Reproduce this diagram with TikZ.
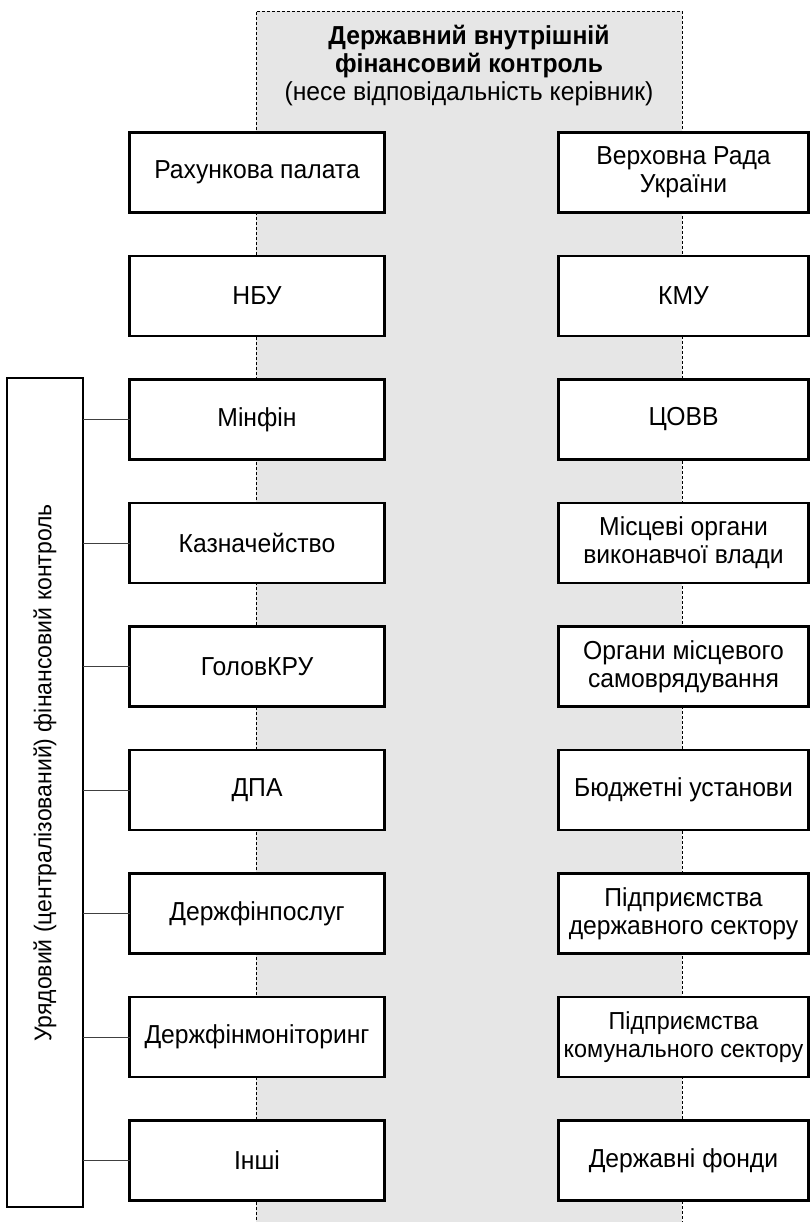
\documentclass[tikz,border=0pt]{standalone}
\usepackage{fontspec}
\setmainfont[FakeStretch=0.95]{Liberation Sans}
\usepackage{graphicx}
\usepackage{xcolor}
\usepackage{tikz}
\usetikzlibrary{positioning}
\definecolor{bandgray}{HTML}{E6E6E6}
\tikzset{
  blk/.style  ={draw, rectangle, fill=white, line width=2.4pt, outer sep=0pt, inner xsep=1pt, align=center, minimum height=80pt, minimum width=255pt, font=\fontsize{26pt}{28pt}\selectfont},
  rblk/.style ={blk, minimum width=250pt},
  vblk/.style ={draw, rectangle, fill=white, line width=2.4pt, outer sep=0pt, minimum height=829pt, minimum width=76pt, font=\fontsize{24.2pt}{28pt}\selectfont},
  band/.style ={draw, dashed, dash pattern=on 3pt off 2pt, line width=0.8pt, fill=bandgray},
  conn/.style ={draw, line width=1pt, black!75},
}

\begin{document}
\begin{tikzpicture}[x=1pt, y=1pt]
  \useasboundingbox (0,0) rectangle (809,-1222);
  % grey band of internal control
  \fill[bandgray] (256,-11) rectangle (682,-1240);
  \draw[band, fill=none] (256,-1240) -- (256,-11) -- (682,-11) -- (682,-1240);
  \node[align=center, font=\fontsize{26pt}{28pt}\selectfont] (title) at (469,-66)
    {\textbf{Державний внутрішній}\\\textbf{фінансовий контроль}\\(несе відповідальність керівник)};

  % left column
  \node[blk] (rp)  at (257,-172.5) {Рахункова палата};
  \node[blk, below=43.5pt of rp]  (nbu) {НБУ};
  \node[blk, below=43.5pt of nbu] (mf)  {Мінфін};
  \node[blk, below=43.5pt of mf]  (kaz) {Казначейство};
  \node[blk, below=43.5pt of kaz] (kru) {ГоловКРУ};
  \node[blk, below=43.5pt of kru] (dpa) {ДПА};
  \node[blk, below=43.5pt of dpa] (dfp) {Держфінпослуг};
  \node[blk, below=43.5pt of dfp] (dfm) {Держфінмоніторинг};
  \node[blk, below=43.5pt of dfm] (inshi) {Інші};

  % right column
  \node[rblk, right=174pt of rp]  (vru)  {Верховна Рада\\України};
  \node[rblk, below=43.5pt of vru] (kmu)  {КМУ};
  \node[rblk, below=43.5pt of kmu] (tsovv) {ЦОВВ};
  \node[rblk, below=43.5pt of tsovv] (mova) {Місцеві органи\\виконавчої влади};
  \node[rblk, below=43.5pt of mova] (oms)  {Органи місцевого\\самоврядування};
  \node[rblk, below=43.5pt of oms]  (bu)   {Бюджетні установи};
  \node[rblk, below=43.5pt of bu]   (pds)  {Підприємства\\державного сектору};
  \node[rblk, below=43.5pt of pds, font=\fontsize{24.6pt}{28pt}\selectfont] (pks) {Підприємства\\комунального сектору};
  \node[rblk, below=43.5pt of pks]  (df)   {Державні фонди};

  % government control
  \node[vblk] (uryad) at (45,-792.5) {\rotatebox{90}{\hspace*{39pt}Урядовий (централізований) фінансовий контроль}};
  \draw[conn] (mf.west)    -- (mf.west -| uryad.east);
  \draw[conn] (kaz.west)   -- (kaz.west -| uryad.east);
  \draw[conn] (kru.west)   -- (kru.west -| uryad.east);
  \draw[conn] (dpa.west)   -- (dpa.west -| uryad.east);
  \draw[conn] (dfp.west)   -- (dfp.west -| uryad.east);
  \draw[conn] (dfm.west)   -- (dfm.west -| uryad.east);
  \draw[conn] (inshi.west) -- (inshi.west -| uryad.east);
\end{tikzpicture}
\end{document}
